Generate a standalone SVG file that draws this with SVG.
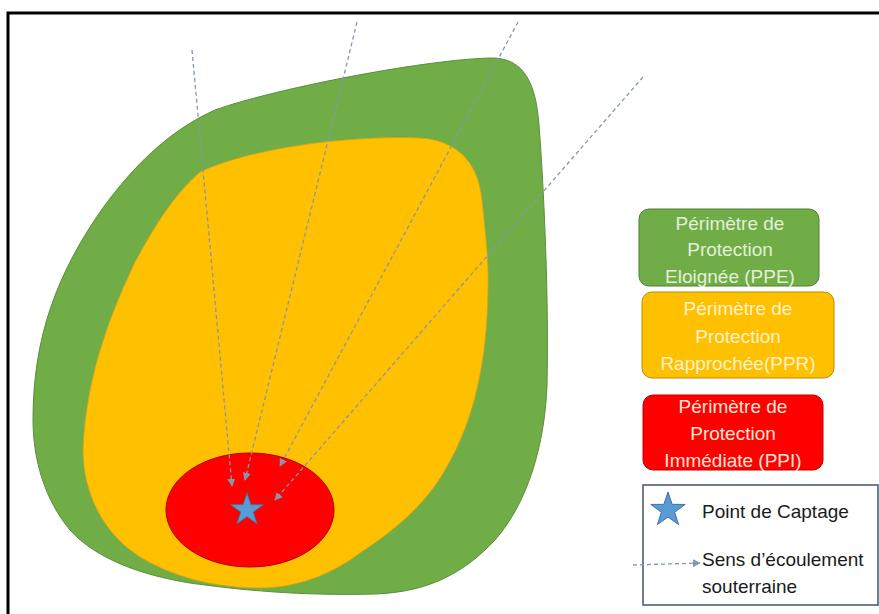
<svg xmlns="http://www.w3.org/2000/svg" width="879" height="614" viewBox="0 0 879 614">
<style>
.lbl{font-family:"Liberation Sans",Arial,sans-serif;font-size:19px;text-anchor:middle}
.leg{font-family:"Liberation Sans",Arial,sans-serif;font-size:19px;fill:#1a1a1a}
.flow{fill:none;stroke:#8497B0;stroke-width:1.3;stroke-dasharray:4 3}
</style>
<defs>
<marker id="ah" viewBox="0 0 10 10" refX="9" refY="5" markerWidth="8" markerHeight="8" markerUnits="userSpaceOnUse" orient="auto">
<path d="M0,0 L10,5 L0,10 Z" fill="#8497B0"/>
</marker>
<path id="star" d="M0,-18 L4.11,-5.66 L17.12,-5.56 L6.66,2.16 L10.58,14.56 L0,7 L-10.58,14.56 L-6.66,2.16 L-17.12,-5.56 L-4.11,-5.66 Z" fill="#5B9BD5" stroke="#41719C" stroke-width="1"/>
</defs>
<rect width="879" height="614" fill="#ffffff"/>
<path d="M8,614 V13 H879" fill="none" stroke="#000" stroke-width="3"/>
<g id="ppe-zone">
<path d="M33,420 C33,340 55,275 105,205 C140,158 175,128 215,110 C270,90 420,60 490,58 C525,57 536,85 539,125 C544,190 549,300 547,385 C545,440 530,500 495,540 C465,572 430,592 375,594 C300,596 240,590 190,583 C140,575 95,558 70,530 C45,500 33,460 33,420 Z" fill="#70AD47" stroke="#5B8E3A" stroke-width="1"/>
</g>
<g id="ppr-zone">
<path d="M83,450 C86,370 115,305 135,262 C150,235 170,198 200,172 C250,148 350,135 420,138 C455,140 478,160 482,200 C485,230 489,260 488,290 C487,360 475,420 445,470 C425,505 395,530 360,553 C335,572 300,588 260,588 C210,588 170,575 140,557 C105,535 83,495 83,450 Z" fill="#FFC000" stroke="#C9A227" stroke-width="0.8"/>
</g>
<g id="ppi-zone">
<ellipse cx="250" cy="510" rx="84" ry="57" fill="#FF0000" stroke="#B00000" stroke-width="1"/>
</g>
<g id="connectors">
<path class="flow" d="M192,50 L232,486" marker-end="url(#ah)"/>
<path class="flow" d="M357,22 L245,480" marker-end="url(#ah)"/>
<path class="flow" d="M518,22 L280,466" marker-end="url(#ah)"/>
<path class="flow" d="M643,77 L275,500" marker-end="url(#ah)"/>
</g>
<g id="captage">
<use href="#star" transform="translate(247,510) scale(0.95)"/>
</g>
<g id="legend-ppe">
<rect x="639" y="209" width="180" height="77" rx="10" fill="#70AD47" stroke="#507E32" stroke-width="1"/>
<text class="lbl" fill="#E2F0D9"><tspan x="730" y="230">Périmètre de</tspan><tspan x="730" y="256">Protection</tspan><tspan x="730" y="283">Eloignée (PPE)</tspan></text>
</g>
<g id="legend-ppr">
<rect x="642" y="292" width="192" height="86" rx="10" fill="#FFC000" stroke="#BC8C00" stroke-width="1"/>
<text class="lbl" fill="#FFF2CC"><tspan x="738" y="315">Périmètre de</tspan><tspan x="738" y="343">Protection</tspan><tspan x="738" y="370">Rapprochée(PPR)</tspan></text>
</g>
<g id="legend-ppi">
<rect x="643" y="395" width="180" height="75" rx="10" fill="#FF0000" stroke="#C00000" stroke-width="1"/>
<text class="lbl" fill="#FBE5D6"><tspan x="733" y="413">Périmètre de</tspan><tspan x="733" y="440">Protection</tspan><tspan x="733" y="467">Immédiate (PPI)</tspan></text>
</g>
<g id="legend-key">
<rect x="643" y="485" width="235" height="120" fill="#ffffff" stroke="#44546A" stroke-width="1.5"/>
<use href="#star" transform="translate(668,510)"/>
<text class="leg" x="702" y="518">Point de Captage</text>
<path class="flow" d="M633,565 L700,563" marker-end="url(#ah)"/>
<text class="leg" x="702" y="566">Sens d’écoulement</text>
<text class="leg" x="702" y="593">souterraine</text>
</g>
</svg>
